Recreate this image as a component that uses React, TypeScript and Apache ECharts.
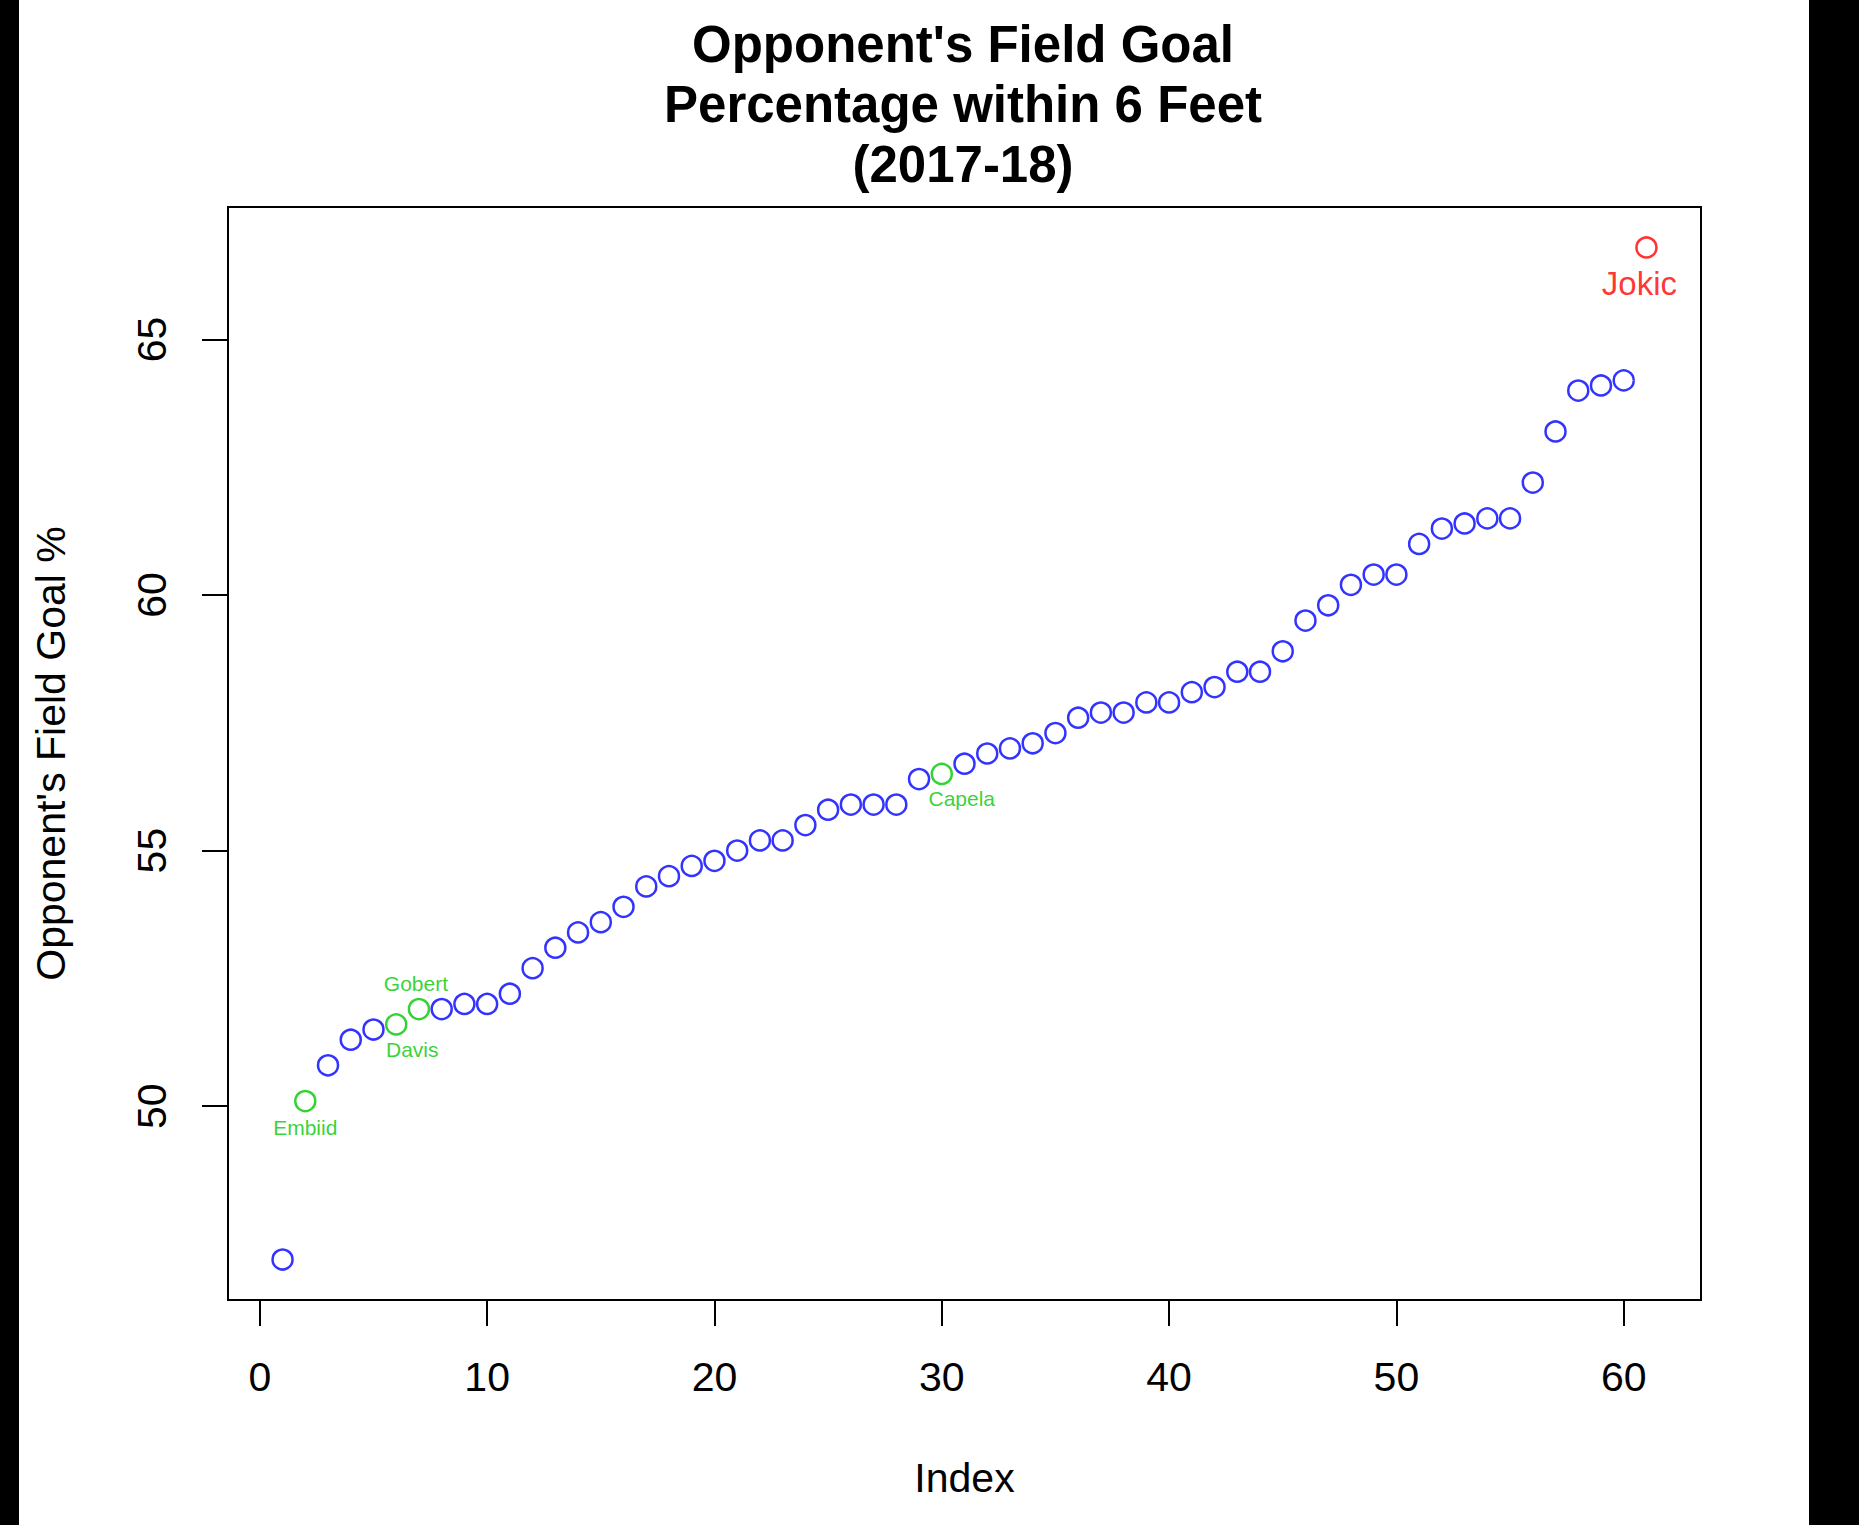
import { useEffect, useRef } from 'react'
import * as echarts from 'echarts'

// opponent FG% within 6 ft, sorted ascending (index 1..61)
const fgPct = [
  47.0, 50.1, 50.8, 51.3, 51.5, 51.6, 51.9, 51.9, 52.0, 52.0,
  52.2, 52.7, 53.1, 53.4, 53.6, 53.9, 54.3, 54.5, 54.7, 54.8,
  55.0, 55.2, 55.2, 55.5, 55.8, 55.9, 55.9, 55.9, 56.4, 56.5,
  56.7, 56.9, 57.0, 57.1, 57.3, 57.6, 57.7, 57.7, 57.9, 57.9,
  58.1, 58.2, 58.5, 58.5, 58.9, 59.5, 59.8, 60.2, 60.4, 60.4,
  61.0, 61.3, 61.4, 61.5, 61.5, 62.2, 63.2, 64.0, 64.1, 64.2,
  66.8,
]

// highlighted players (1-based index)
const greenIdx = [2, 6, 7, 30]
const greenNames = ['Embiid', 'Davis', 'Gobert', 'Capela']
const redIdx = [61]
const redNames = ['Jokic']

const xTicks = [0, 10, 20, 30, 40, 50, 60]
const yTicks = [50, 55, 60, 65]

const BLUE = '#0000FF'
const GREEN = '#00C800'
const RED = '#FF0000'
const FONT = '"Liberation Sans", Arial, sans-serif'

// label offsets relative to the point (px)
const labelOffsets: Record<string, number[]> = {
  Embiid: [0, 26],
  Davis: [16, 25],
  Gobert: [-3, -26],
  Capela: [20, 25],
  Jokic: [-7, 36],
}

function buildOption() {
  const n = fgPct.length
  const xr = [1 - 0.04 * (n - 1), n + 0.04 * (n - 1)]
  const lo = Math.min(...fgPct)
  const hi = Math.max(...fgPct)
  const yr = [lo - 0.04 * (hi - lo), hi + 0.04 * (hi - lo)]

  const data = fgPct.map((v, i) => {
    const idx = i + 1
    let color = BLUE
    let name = ''
    let fontSize = 21
    const g = greenIdx.indexOf(idx)
    const r = redIdx.indexOf(idx)
    if (g >= 0) {
      color = GREEN
      name = greenNames[g]
    }
    if (r >= 0) {
      color = RED
      name = redNames[r]
      fontSize = 33
    }
    const item: any = {
      value: [idx, v],
      itemStyle: { color: 'rgba(0,0,0,0)', borderColor: color, borderWidth: 2.5 },
    }
    if (name) {
      item.label = {
        show: true,
        formatter: name,
        position: 'inside',
        offset: labelOffsets[name],
        color,
        fontSize,
        fontFamily: FONT,
      }
    }
    return item
  })

  return {
    animation: false,
    backgroundColor: '#fff',
    title: {
      text: "Opponent's Field Goal\nPercentage within 6 Feet\n(2017-18)",
      left: 958,
      top: 9,
      textAlign: 'center',
      textStyle: {
        fontFamily: FONT,
        fontWeight: 'bold',
        fontSize: 51,
        lineHeight: 60,
        color: '#000',
      },
    },
    graphic: [
      { type: 'rect', shape: { x: 0, y: 0, width: 19, height: 1525 }, style: { fill: '#000' } },
      { type: 'rect', shape: { x: 1809, y: 0, width: 50, height: 1525 }, style: { fill: '#000' } },
    ],
    grid: {
      left: 228,
      right: 158,
      top: 207,
      bottom: 225,
      show: true,
      borderColor: '#000',
      borderWidth: 2,
      backgroundColor: 'transparent',
    },
    xAxis: {
      type: 'value',
      min: xr[0],
      max: xr[1],
      name: 'Index',
      nameLocation: 'middle',
      nameGap: 157,
      nameTextStyle: { fontFamily: FONT, fontSize: 41, color: '#000' },
      axisLine: { show: false, onZero: false },
      splitLine: { show: false },
      axisTick: {
        show: true,
        length: 26,
        customValues: xTicks,
        lineStyle: { color: '#000', width: 2 },
      },
      axisLabel: {
        customValues: xTicks,
        margin: 56,
        fontFamily: FONT,
        fontSize: 41,
        color: '#000',
      },
    },
    yAxis: {
      type: 'value',
      min: yr[0],
      max: yr[1],
      name: "Opponent's Field Goal %",
      nameLocation: 'middle',
      nameGap: 157,
      nameTextStyle: { fontFamily: FONT, fontSize: 41, color: '#000' },
      axisLine: { show: false, onZero: false },
      splitLine: { show: false },
      axisTick: {
        show: true,
        length: 26,
        customValues: yTicks,
        lineStyle: { color: '#000', width: 2 },
      },
      axisLabel: {
        customValues: yTicks,
        rotate: 90,
        margin: 56,
        fontFamily: FONT,
        fontSize: 41,
        color: '#000',
      },
    },
    series: [
      {
        type: 'scatter',
        symbol: 'circle',
        symbolSize: 20,
        data,
        emphasis: { disabled: true },
      },
    ],
  }
}

export default function App() {
  const chartRef = useRef<HTMLDivElement>(null)

  useEffect(() => {
    document.body.style.margin = '0'
    if (!chartRef.current) return
    const chart = echarts.init(chartRef.current, null, { renderer: 'svg' })
    chart.setOption(buildOption())
    return () => {
      chart.dispose()
    }
  }, [])

  return <div ref={chartRef} style={{ width: 1859, height: 1525 }} />
}
